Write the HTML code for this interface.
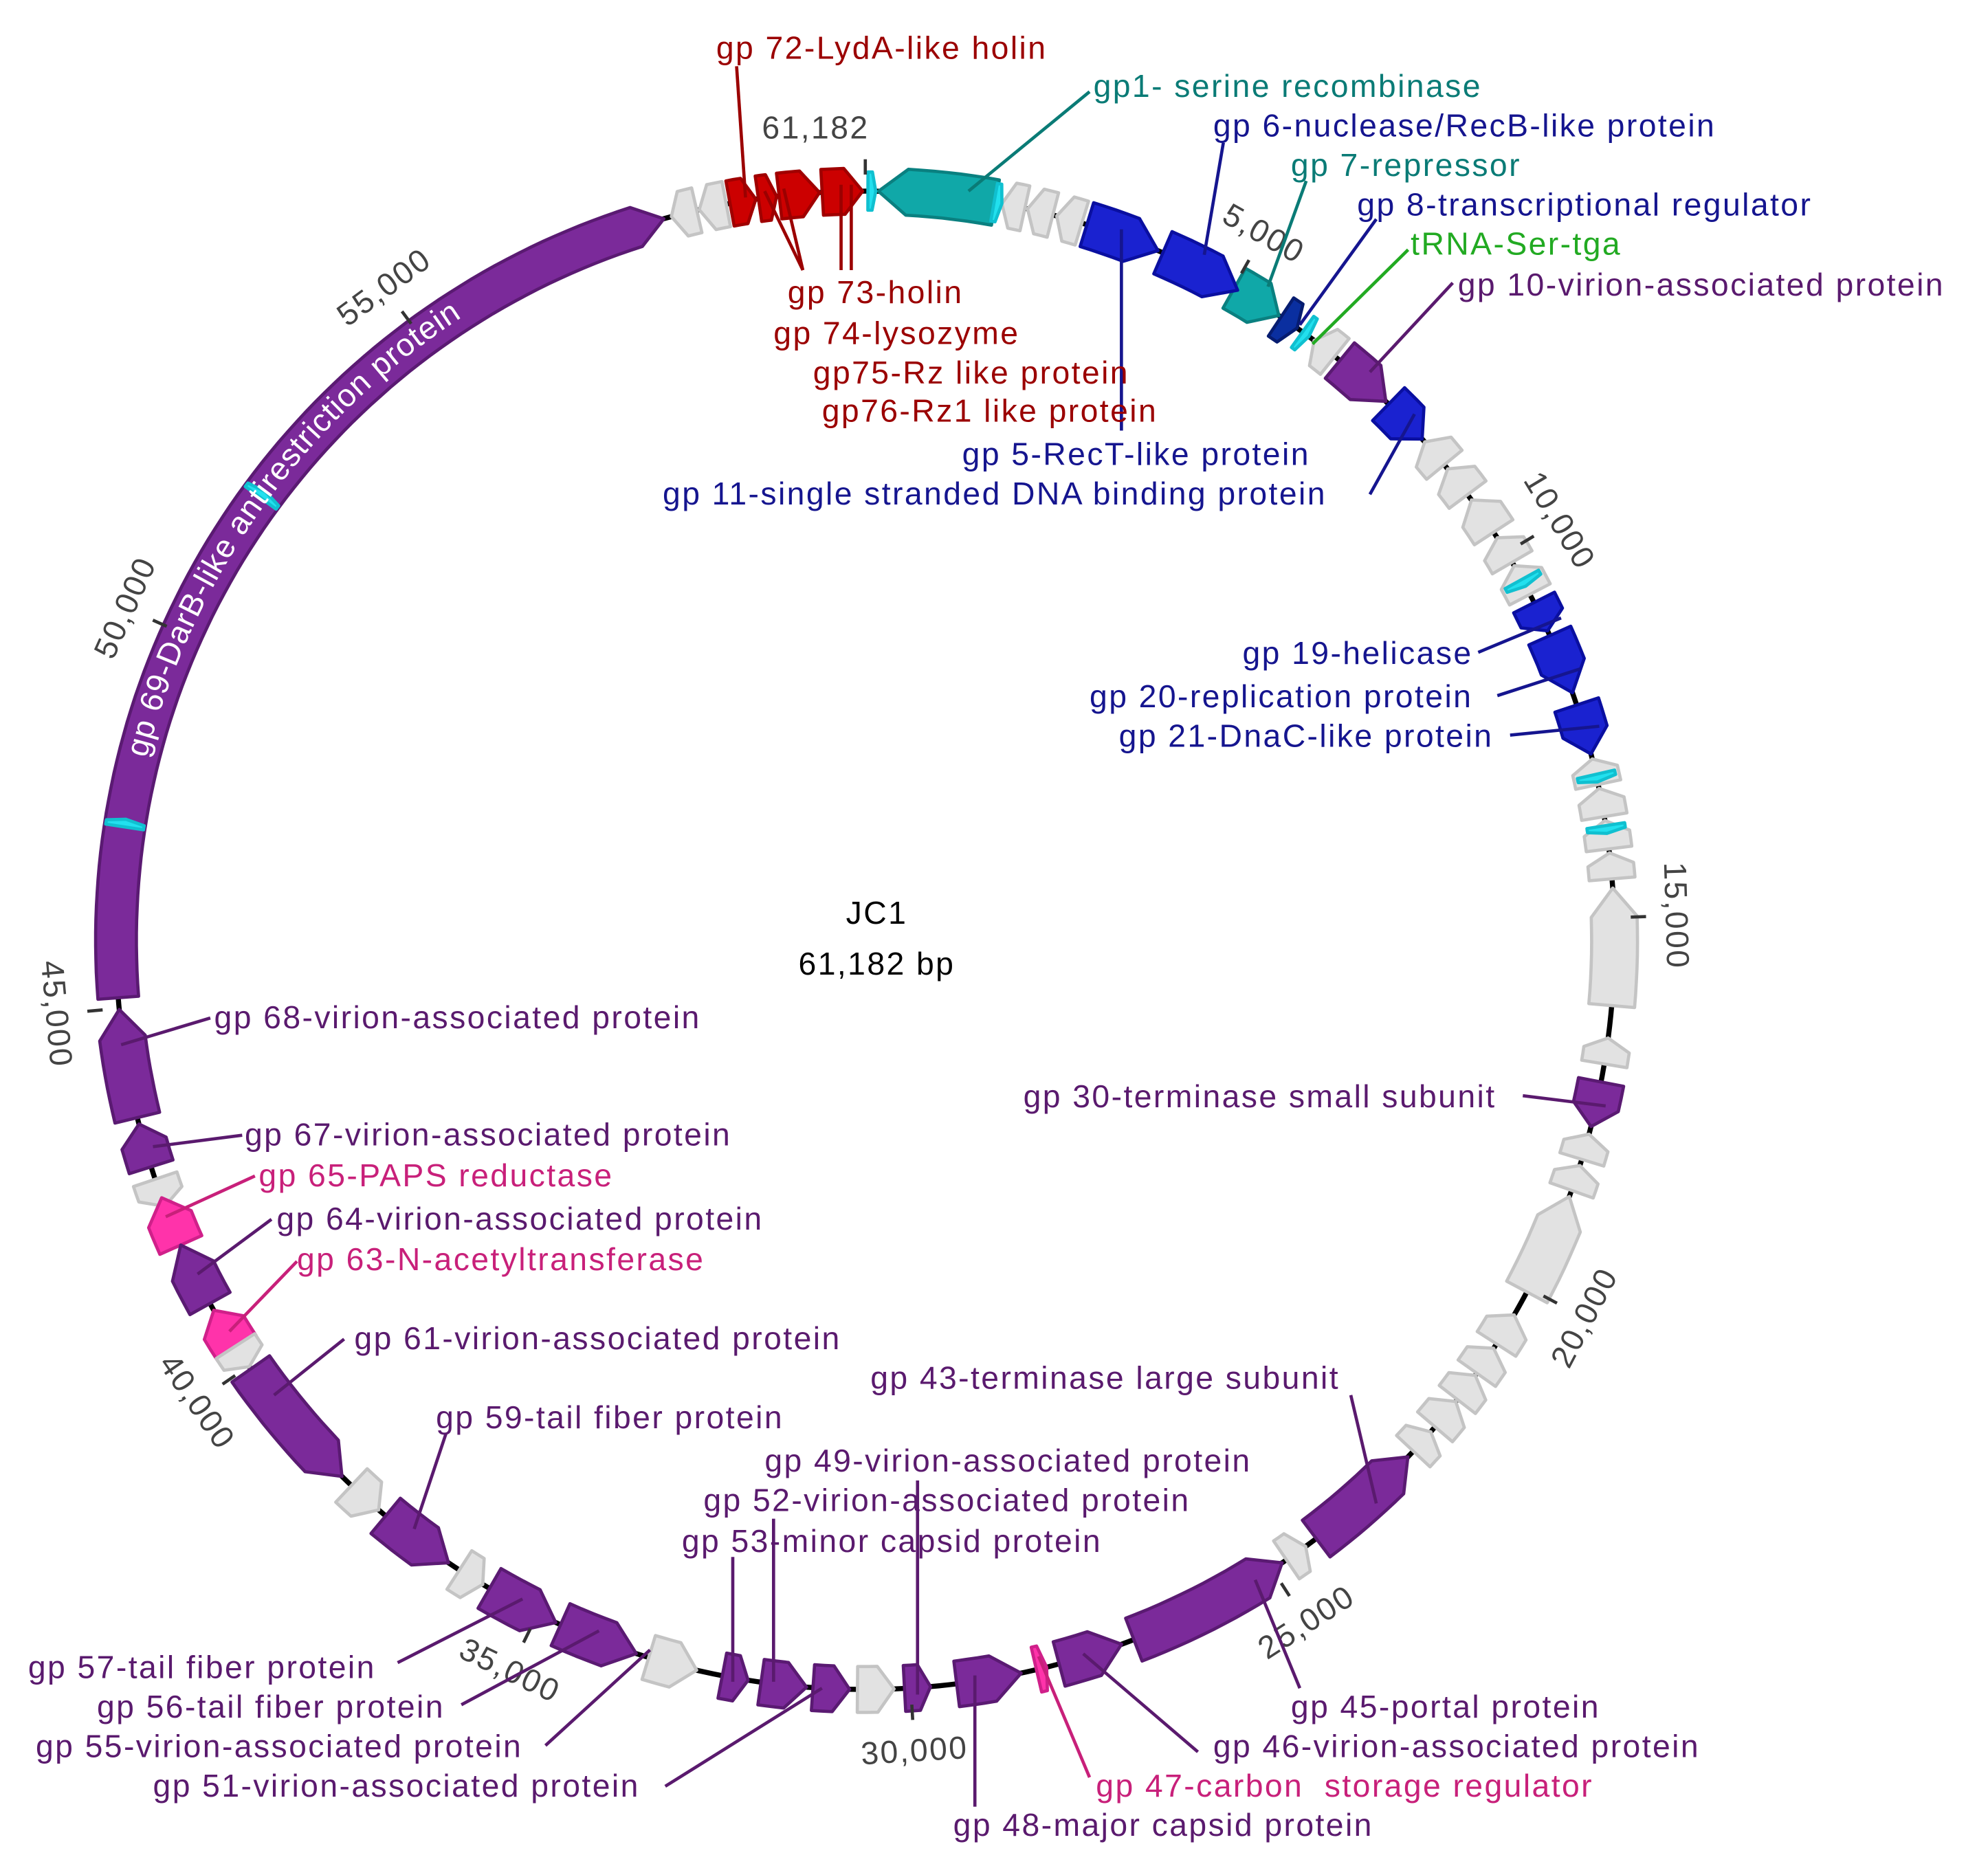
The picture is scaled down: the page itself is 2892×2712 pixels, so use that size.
<!DOCTYPE html>
<html><head><meta charset="utf-8">
<style>
html,body{margin:0;padding:0;background:#fff;}
svg{display:block;}
text{font-family:"Liberation Sans",sans-serif;font-size:25px;letter-spacing:1.3px;}
</style></head>
<body>
<svg id="s" width="2892" height="2712" viewBox="0 0 1560 1463" xmlns="http://www.w3.org/2000/svg">
<rect width="1560" height="1463" fill="#fff"/>
<circle cx="679" cy="738" r="588" fill="none" stroke="#000" stroke-width="4"/>
<g id="genes"></g>
<g id="ticks"></g>
<defs><path id="arcp" d="M 99 783.6 A 583 583 0 0 1 521 177"/></defs>
<text fill="#fff" font-size="21" style="letter-spacing:0.6px"><textPath href="#arcp" startOffset="190">gp 69-DarB-like antirestriction protein</textPath></text>

<g stroke-width="2.5" fill="none">
<g stroke="#9b0000">
<line x1="578" y1="52" x2="585" y2="155"/><line x1="630" y1="212" x2="600" y2="150"/><line x1="630" y1="212" x2="615" y2="148"/>
<line x1="660" y1="212" x2="660" y2="145"/><line x1="668" y1="212" x2="668" y2="145"/>
</g>
<g stroke="#0a7b76"><line x1="855" y1="72" x2="760" y2="150"/><line x1="1025" y1="142" x2="995" y2="225"/></g>
<g stroke="#15158f"><line x1="960" y1="112" x2="945" y2="200"/><line x1="1080" y1="172" x2="1020" y2="255"/><line x1="880" y1="338" x2="880" y2="180"/><line x1="1075" y1="388" x2="1110" y2="325"/>
<line x1="1160" y1="512" x2="1225" y2="485"/><line x1="1175" y1="546" x2="1240" y2="525"/><line x1="1185" y1="577" x2="1255" y2="570"/></g>
<line x1="1105" y1="196" x2="1030" y2="270" stroke="#22aa22"/>
<g stroke="#5a1a6e">
<line x1="1140" y1="222" x2="1075" y2="292"/><line x1="1195" y1="860" x2="1260" y2="868"/><line x1="1060" y1="1095" x2="1080" y2="1180"/>
<line x1="1020" y1="1325" x2="985" y2="1240"/><line x1="940" y1="1375" x2="850" y2="1298"/><line x1="765" y1="1418" x2="765" y2="1315"/>
<line x1="720" y1="1162" x2="720" y2="1330"/><line x1="607" y1="1192" x2="607" y2="1320"/><line x1="575" y1="1222" x2="575" y2="1320"/>
<line x1="522" y1="1402" x2="645" y2="1325"/><line x1="428" y1="1370" x2="510" y2="1295"/><line x1="362" y1="1338" x2="470" y2="1280"/>
<line x1="312" y1="1305" x2="410" y2="1255"/><line x1="350" y1="1125" x2="325" y2="1200"/><line x1="270" y1="1051" x2="215" y2="1095"/>
<line x1="213" y1="957" x2="155" y2="1000"/><line x1="190" y1="891" x2="120" y2="900"/><line x1="165" y1="799" x2="95" y2="820"/>
</g>
<g stroke="#c8207a"><line x1="855" y1="1395" x2="815" y2="1300"/><line x1="233" y1="990" x2="180" y2="1045"/><line x1="200" y1="923" x2="130" y2="955"/></g>
</g>

<g fill="#9b0000">
<text x="562" y="46">gp 72-LydA-like holin</text>
<text x="618" y="238">gp 73-holin</text>
<text x="607" y="270">gp 74-lysozyme</text>
<text x="638" y="301">gp75-Rz like protein</text>
<text x="645" y="331">gp76-Rz1 like protein</text>
</g>
<g fill="#0a7b76"><text x="858" y="76">gp1- serine recombinase</text><text x="1013" y="138">gp 7-repressor</text></g>
<g fill="#15158f">
<text x="952" y="107">gp 6-nuclease/RecB-like protein</text>
<text x="1065" y="169">gp 8-transcriptional regulator</text>
<text x="755" y="365">gp 5-RecT-like protein</text>
<text x="520" y="396">gp 11-single stranded DNA binding protein</text>
<text x="975" y="521">gp 19-helicase</text>
<text x="855" y="555">gp 20-replication protein</text>
<text x="878" y="586">gp 21-DnaC-like protein</text>
</g>
<text x="1107" y="200" fill="#22aa22">tRNA-Ser-tga</text>
<g fill="#5a1a6e">
<text x="1144" y="232">gp 10-virion-associated protein</text>
<text x="803" y="869">gp 30-terminase small subunit</text>
<text x="683" y="1090">gp 43-terminase large subunit</text>
<text x="600" y="1155">gp 49-virion-associated protein</text>
<text x="552" y="1186">gp 52-virion-associated protein</text>
<text x="535" y="1218">gp 53-minor capsid protein</text>
<text x="342" y="1121">gp 59-tail fiber protein</text>
<text x="278" y="1059">gp 61-virion-associated protein</text>
<text x="217" y="965">gp 64-virion-associated protein</text>
<text x="192" y="899">gp 67-virion-associated protein</text>
<text x="168" y="807">gp 68-virion-associated protein</text>
<text x="22" y="1317">gp 57-tail fiber protein</text>
<text x="76" y="1348">gp 56-tail fiber protein</text>
<text x="28" y="1379">gp 55-virion-associated protein</text>
<text x="120" y="1410">gp 51-virion-associated protein</text>
<text x="1013" y="1348">gp 45-portal protein</text>
<text x="952" y="1379">gp 46-virion-associated protein</text>
<text x="748" y="1441">gp 48-major capsid protein</text>
</g>
<g fill="#c8207a">
<text x="203" y="931">gp 65-PAPS reductase</text>
<text x="233" y="997">gp 63-N-acetyltransferase</text>
<text x="860" y="1410" xml:space="preserve">gp 47-carbon  storage regulator</text>
</g>
<text x="688" y="725" text-anchor="middle" fill="#000">JC1</text>
<text x="688" y="765" text-anchor="middle" fill="#000">61,182 bp</text>
</svg>
<script>
(function(){
var NS="http://www.w3.org/2000/svg",CX=679,CY=738,R=588;
function P(a,r){var t=a*Math.PI/180;return [(CX+r*Math.sin(t)).toFixed(1),(CY-r*Math.cos(t)).toFixed(1)];}
var g=document.getElementById('genes');
var C={p:["#7b2a9a","#5a1a72"],g:["#e2e2e2","#c4c4c4"],b:["#1a22d0","#0a0fa0"],t:["#10a8a8","#0a8080"],r:["#cc0000","#a00000"],k:["#ff33aa","#d0208a"],d:["#0a2fa0","#061c70"],c:["#22e0ee","#10c0d0"]};
function gene(a1,a2,c,dir,w){
 w=w||36;var h=w/2,ro=R+h,ri=R-h;
 var len=a2-a1,head=Math.min(2.2,len*0.45);
 var pts=[];var s,e,tip;
 if(dir>0){s=a1;e=a2-head;tip=a2;}else{s=a1+head;e=a2;tip=a1;}
 var n=Math.max(2,Math.ceil((e-s)/1));
 for(var i=0;i<=n;i++)pts.push(P(s+(e-s)*i/n,ro));
 if(dir>0){pts.push(P(tip,R));}
 for(var i=n;i>=0;i--)pts.push(P(s+(e-s)*i/n,ri));
 if(dir<0){pts.push(P(tip,R));}
 var el=document.createElementNS(NS,'polygon');
 el.setAttribute('points',pts.map(function(p){return p.join(',')}).join(' '));
 el.setAttribute('fill',C[c][0]);el.setAttribute('stroke',C[c][1]);el.setAttribute('stroke-width','2.5');el.setAttribute('stroke-linejoin','round');
 g.appendChild(el);
}
var L=[
[265.6,344.4,'p',1,32],[256.3,264.7,'p',1],[252.4,255.8,'p',1],[249.2,251.4,'g',-1],[246,249.9,'k',1],[241,246,'p',1],[237,240.4,'k',1],[235.3,237.2,'g',-1],
[224.3,235.1,'p',-1],[220.5,223.3,'g',-1],[213.8,219.8,'p',-1],[210.7,212.8,'g',-1],[204.4,210.1,'p',-1],[197.8,204,'p',-1],[193,196.8,'g',-1],
[189,191,'p',-1],[184.5,188,'p',-1],[181.2,184,'p',-1],[177.8,180.6,'g',-1],[175,177,'p',-1],[168,173,'p',-1],[166,166.8,'k',-1],[160,165,'p',-1],
[146.2,159,'p',-1],[144,145.8,'g',-1],[133.6,143,'p',-1],[131,133,'g',-1],[128,130.5,'g',-1],[125.5,127.8,'g',-1],[123,125.3,'g',-1],[120,122.6,'g',-1],
[110,118,'g',-1],[107.5,109.5,'g',-1],[105,107,'g',-1],[100.9,104.4,'p',1],[97.5,99.5,'g',-1],[86,95,'g',-1],[83.3,85.3,'g',-1],[80.8,83,'g',-1],
[78.3,80.5,'g',-1],[76,78,'g',-1],[71.7,75.6,'b',1],[66,70.7,'b',1],[63.2,65.6,'b',1],[60,62.5,'g',-1],[57.5,59.7,'g',-1],[54,57,'g',-1],
[51,53.5,'g',-1],[48.3,50.6,'g',-1],[44.3,48,'b',1],[39.3,44,'p',1],[36.8,38.8,'g',-1],[33.7,35.2,'d',1],[29.5,33.5,'t',1],[23.4,29.8,'b',1],
[17.2,23,'b',1],[14.8,16.8,'g',-1],[12.5,14.5,'g',-1],[10.5,12.3,'g',-1],[1,10,'t',-1],[356.7,359.8,'r',1],[353.4,356.5,'r',1],[351.8,353.2,'r',1],
[349.6,351.6,'r',1],[347.2,349.3,'g',-1],[345,347,'g',-1]
];
L.forEach(function(x){gene(x[0],x[1],x[2],x[3],x[4]);});
[306.5,279,61.5,77.5,81.5,10.2,0.5,36].forEach(function(a){gene(a-0.3,a+0.3,'c',1,30);});
var tk=document.getElementById('ticks');
var marks=[[5000,'5,000'],[10000,'10,000'],[15000,'15,000'],[20000,'20,000'],[25000,'25,000'],[30000,'30,000'],[35000,'35,000'],[40000,'40,000'],[45000,'45,000'],[50000,'50,000'],[55000,'55,000'],[61182,'61,182']];
marks.forEach(function(m){
 var a=m[0]/61182*360;if(a>=359.9)a=0;
 var p1=P(a,601),p2=P(a,613);
 var ln=document.createElementNS(NS,'line');
 ln.setAttribute('x1',p1[0]);ln.setAttribute('y1',p1[1]);ln.setAttribute('x2',p2[0]);ln.setAttribute('y2',p2[1]);
 ln.setAttribute('stroke','#333');ln.setAttribute('stroke-width','2.5');tk.appendChild(ln);
 var rot=a>90&&a<270?a-180:(a>=270?a-360:a);
 var pp=P(a,637);
 var t=document.createElementNS(NS,'text');
 t.setAttribute('x',pp[0]);t.setAttribute('y',pp[1]);t.setAttribute('text-anchor','middle');t.setAttribute('dominant-baseline','central');
 t.setAttribute('fill','#444');t.setAttribute('transform','rotate('+rot.toFixed(1)+' '+pp[0]+' '+pp[1]+')');
 if(m[0]==61182){t.setAttribute('x',640);t.setAttribute('y',100);t.setAttribute('transform','');}
 t.textContent=m[1];tk.appendChild(t);
});
})();
</script>
</body></html>
